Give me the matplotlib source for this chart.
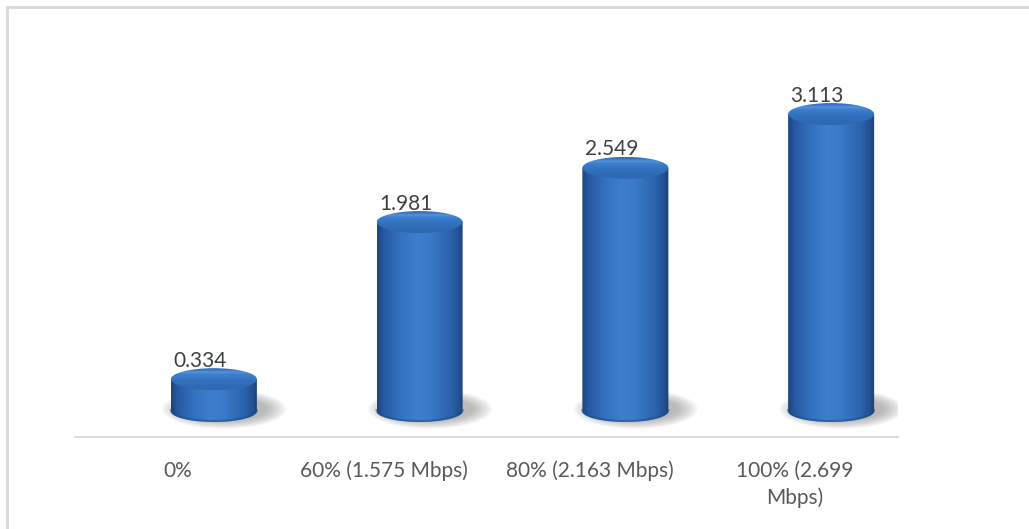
import numpy as np
import matplotlib
matplotlib.use("Agg")
import matplotlib.pyplot as plt
from matplotlib.colors import LinearSegmentedColormap
from matplotlib.patches import Ellipse, Rectangle, PathPatch
from matplotlib.path import Path

categories = ["0%", "60% (1.575 Mbps)", "80% (2.163 Mbps)", "100% (2.699\nMbps)"]
values = [0.334, 1.981, 2.549, 3.113]
labels = ["0.334", "1.981", "2.549", "3.113"]

plt.rcParams["font.family"] = ["Lato", "DejaVu Sans"]

W, H = 1029, 529
fig = plt.figure(figsize=(W / 100, H / 100), dpi=100)
fig.patch.set_facecolor("white")

# outer chart frame
fig.add_artist(Rectangle((7 / W, -0.1), 1.2, 1 - 7 / H + 0.1, transform=fig.transFigure,
                         fill=False, edgecolor="#d9d9d9", linewidth=2))

ax = fig.add_axes([75 / W, 1 - 437 / H, (898 - 75) / W, (437 - 40) / H])
ax.set_xlim(-0.5, 3.5)
ax.set_ylim(-0.2725, 3.889)
for s in ["top", "left", "right"]:
    ax.spines[s].set_visible(False)
ax.spines["bottom"].set_color("#d9d9d9")
ax.spines["bottom"].set_linewidth(1.3)
ax.set_yticks([])
ax.set_xticks(range(len(categories)))
ax.set_xticklabels(categories, color="#595959", fontsize=15, linespacing=1.4)
ax.tick_params(axis="x", length=0, pad=17)
for t in ax.get_xticklabels():
    t.set_horizontalalignment("center")

# cylinder geometry (data units)
dx = 0.175      # depth shift of the cylinders
hw = 0.209      # half width
eh = 0.115      # half height of the end ellipses

body_cmap = LinearSegmentedColormap.from_list("body", [
    (0.0, "#1b447c"), (0.07, "#2757a0"), (0.25, "#3270bd"), (0.45, "#3c7fcd"),
    (0.6, "#3a7bc9"), (0.85, "#2b62ab"), (0.95, "#224f8f"), (1.0, "#1a4078")])
top_cmap = LinearSegmentedColormap.from_list("top", [
    (0.0, "#2d67b0"), (0.45, "#3271bd"), (0.72, "#3d80cf"), (0.82, "#5593d9"),
    (0.9, "#3a7ac6"), (1.0, "#3069b2")])

theta = np.linspace(np.pi, 2 * np.pi, 60)

for i, v in enumerate(values):
    c = i + dx

    # soft shadow behind the base
    for k in range(16):
        f = 1 - k / 16
        ax.add_patch(Ellipse((c + 0.05, 0.02), 2 * hw * (0.95 + 0.5 * f), eh * 2 * (1.0 + 0.8 * f),
                             facecolor="#7a7a7a", edgecolor="none", alpha=0.04, zorder=1))

    # body: rectangle plus the lower half of the base ellipse
    bx = c + hw * np.cos(theta)
    by = eh * np.sin(theta)
    verts = [(c - hw, v)] + list(zip(bx, by)) + [(c + hw, v), (c - hw, v)]
    codes = [Path.MOVETO] + [Path.LINETO] * (len(verts) - 2) + [Path.CLOSEPOLY]
    body = PathPatch(Path(verts, codes), facecolor="none", edgecolor="none", zorder=2)
    ax.add_patch(body)
    grad = np.linspace(0, 1, 256).reshape(1, -1)
    im = ax.imshow(grad, cmap=body_cmap, extent=[c - hw, c + hw, -eh, v], aspect="auto",
                   zorder=2, interpolation="bilinear")
    im.set_clip_path(body)

    # slightly darker rim along the base
    ax.plot(bx, by + 0.01, color="#1d4a88", linewidth=1.5, alpha=0.5, zorder=2.5)

    # top ellipse
    top = Ellipse((c, v), 2 * hw, 2 * eh, facecolor="none", edgecolor="none", zorder=3)
    ax.add_patch(top)
    vgrad = np.linspace(0, 1, 128).reshape(-1, 1)
    im2 = ax.imshow(vgrad, cmap=top_cmap, extent=[c - hw, c + hw, v + eh, v - eh],
                    aspect="auto", zorder=3, interpolation="bilinear")
    im2.set_clip_path(top)

    ax.text(c - 0.068, v + eh + 0.015, labels[i], ha="center", va="baseline",
            fontsize=15, color="#404040", zorder=4)

ax.set_xlim(-0.5, 3.5)
ax.set_ylim(-0.2725, 3.889)

fig.savefig("out.png", dpi=100, facecolor="white")
